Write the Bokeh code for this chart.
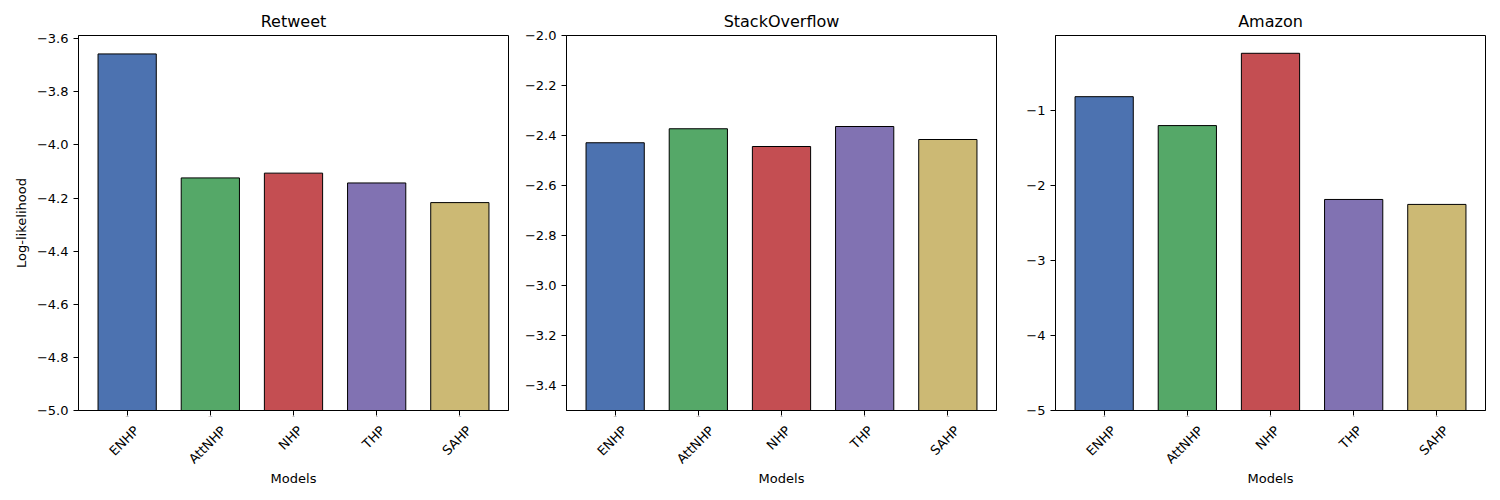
import math
from bokeh.plotting import figure
from bokeh.layouts import row, column
from bokeh.models import Range1d, FactorRange, FixedTicker, CustomJSTickFormatter, ColumnDataSource
from bokeh.core.properties import value
from bokeh.embed import file_html
from bokeh.resources import INLINE

models = ["ENHP", "AttNHP", "NHP", "THP", "SAHP"]
colors = ["#4C72B0", "#55A868", "#C44E52", "#8172B2", "#CCB974"]

retweet = [-3.657, -4.124, -4.106, -4.143, -4.217]
stackoverflow = [-2.429, -2.373, -2.444, -2.364, -2.416]
amazon = [-0.82, -1.205, -0.242, -2.189, -2.255]

titles = ["Retweet", "StackOverflow", "Amazon"]
datasets = [retweet, stackoverflow, amazon]
ylims = [(-5.0, -3.5876), (-3.5, -2.0), (-5.0, -0.005)]
yticks = [[-5.0, -4.8, -4.6, -4.4, -4.2, -4.0, -3.8, -3.6],
          [-3.4, -3.2, -3.0, -2.8, -2.6, -2.4, -2.2, -2.0],
          [-5, -4, -3, -2, -1]]
decimals = [1, 1, 0]

FONT = "DejaVu Sans"
borders = [(78, 8), (50, 9), (50, 7)]

# DejaVu Sans advance widths (units per em 2048), used to centre rotated labels
ADV = {"E": 1294, "N": 1532, "H": 1540, "P": 1235, "A": 1401, "t": 803, "S": 1300, "T": 1251}
FS = 13.33
GAP = 8      # bottom border of the plot (room for the lowest y tick label)
LAB_H = 48   # height of the label strip frame (px)
TICK = 5


def text_w(s):
    return sum(ADV.get(c, 1300) for c in s) * FS / 2048.0


cols = []
for i in range(3):
    lo, hi = ylims[i]
    xr = FactorRange(*models, range_padding=0.085, range_padding_units="absolute")
    p = figure(x_range=xr, y_range=Range1d(lo, hi),
               frame_width=430, frame_height=375,
               min_border_left=borders[i][0], min_border_right=borders[i][1],
               min_border_top=35, min_border_bottom=GAP,
               output_backend="svg", toolbar_location=None,
               title=titles[i])
    src = ColumnDataSource(dict(x=models, top=datasets[i], bottom=[lo] * len(models), color=colors))
    p.vbar(x="x", top="top", bottom="bottom", width=0.7, source=src,
           fill_color="color", line_color="black", line_width=1)
    p.title.align = "center"
    p.title.text_font = FONT
    p.title.text_font_size = "16px"
    p.title.text_font_style = "normal"
    p.title.text_color = "black"
    p.xgrid.visible = False
    p.ygrid.visible = False
    p.outline_line_color = "black"
    p.outline_line_alpha = 1
    p.background_fill_color = "white"
    p.border_fill_color = "white"
    for ax in (p.xaxis[0], p.yaxis[0]):
        ax.axis_line_color = "black"
        ax.major_tick_line_color = "black"
        ax.major_tick_out = TICK
        ax.major_tick_in = 0
        ax.minor_tick_line_color = None
        ax.major_label_text_font = FONT
        ax.major_label_text_font_size = "13px"
        ax.major_label_text_color = "black"
        ax.axis_label_text_font = FONT
        ax.axis_label_text_font_size = "13px"
        ax.axis_label_text_font_style = "normal"
        ax.axis_label_text_color = "black"
    # x tick marks only; the labels are drawn centred in the strip below
    p.xaxis[0].major_label_overrides = {m: " " for m in models}
    p.xaxis[0].major_label_text_font_size = "1px"
    p.xaxis[0].major_label_standoff = 0
    p.yaxis[0].ticker = FixedTicker(ticks=yticks[i])
    p.yaxis[0].formatter = CustomJSTickFormatter(
        code="return tick.toFixed(%d).replace('-', '\\u2212');" % decimals[i])
    if i == 0:
        p.yaxis[0].axis_label = "Log-likelihood"

    # strip below the plot: rotated centred tick labels and the x-axis title
    lab = figure(x_range=xr, y_range=Range1d(-LAB_H, 0),
                 frame_width=430, frame_height=LAB_H,
                 min_border_left=borders[i][0], min_border_right=borders[i][1],
                 min_border_top=0, min_border_bottom=10,
                 x_axis_location=None, y_axis_location=None,
                 title="Models", title_location="below",
                 output_backend="svg", toolbar_location=None)
    lab.xgrid.visible = False
    lab.ygrid.visible = False
    lab.outline_line_color = None
    lab.background_fill_color = "white"
    lab.border_fill_color = "white"
    ys = [-(13 - GAP + (text_w(m) + 9.7) / (2 * math.sqrt(2))) for m in models]
    lab.text(x=models, y=ys, text=models, angle=45, angle_units="deg",
             x_offset=-3, text_align="center", text_baseline="middle",
             text_font=value(FONT), text_font_size="13px", text_color="black")
    lab.title.align = "center"
    lab.title.text_font = FONT
    lab.title.text_font_size = "13px"
    lab.title.text_font_style = "normal"
    lab.title.text_color = "black"
    lab.title.standoff = 2
    cols.append(column(p, lab))

layout = row(*cols)
open("out.html", "w").write(file_html(layout, INLINE))
